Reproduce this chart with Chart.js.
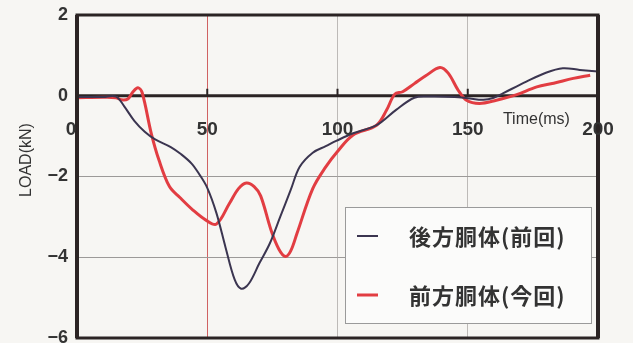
<!DOCTYPE html>
<html>
<head>
<meta charset="utf-8">
<script src="https://cdn.jsdelivr.net/npm/chart.js@4/dist/chart.umd.min.js"></script>
<style>
  html, body { margin: 0; padding: 0; background: #f7f6f3; }
  #wrap { width: 633px; height: 343px; position: relative; }
</style>
</head>
<body>
<div id="wrap"><canvas id="c" width="633" height="343"></canvas></div>
<script>
// Time axis (ms) and load (kN) samples for each body section
const rearTime = [0, 10, 15, 18, 22, 26, 30, 36, 40, 44, 47, 50, 53.5, 57, 60.5, 63, 66, 70, 74, 78, 82, 85.5, 90.5, 95.5, 99.5, 106, 115, 122.5, 129.5, 135, 145, 150, 156, 160, 163.5, 172.5, 180, 186.5, 193, 200];
const rearLoad = [-0.03, -0.03, -0.02, -0.25, -0.62, -0.89, -1.08, -1.27, -1.45, -1.68, -1.95, -2.28, -2.9, -3.75, -4.55, -4.78, -4.65, -4.15, -3.66, -3.0, -2.34, -1.76, -1.41, -1.25, -1.12, -0.93, -0.73, -0.35, -0.05, -0.02, -0.03, -0.06, -0.1, -0.05, 0.06, 0.35, 0.57, 0.68, 0.64, 0.6];

const frontTime = [0, 10, 15, 17, 19.5, 21.5, 23.4, 25, 28.5, 31.5, 35.5, 39.5, 44.5, 49.5, 53.5, 58.5, 62, 65, 68, 70.5, 74.5, 77.5, 80, 82, 84.5, 90.5, 95.5, 100, 106, 115, 118.8, 122, 125, 129.5, 134, 139.3, 142.5, 146.3, 149.5, 154.5, 161, 168.5, 176.5, 183, 190.5, 197];
const frontLoad = [-0.05, -0.04, -0.05, -0.1, -0.08, 0.1, 0.2, 0.08, -0.93, -1.6, -2.25, -2.52, -2.83, -3.08, -3.18, -2.67, -2.3, -2.16, -2.25, -2.48, -3.33, -3.8, -3.98, -3.85, -3.4, -2.3, -1.76, -1.38, -0.97, -0.73, -0.36, 0.04, 0.1, 0.3, 0.5, 0.7, 0.56, 0.14, -0.11, -0.19, -0.11, 0.02, 0.22, 0.31, 0.43, 0.51];

const seriesLabels = ['後方胴体(前回)', '前方胴体(今回)'];
const xTicks = [0, 50, 100, 150, 200];
const yTicks = [2, 0, -2, -4, -6];
const xTitle = 'Time(ms)';
const yTitle = 'LOAD(kN)';

const pts = (xs, ys) => xs.map((x, i) => ({ x: x, y: ys[i] }));

const INK = '#2b2424';
const TEXT = '#333333';
const NUM_FONT = '"Liberation Sans", Arial, sans-serif';
const CJK_FONT = '"Noto Sans CJK JP", "Noto Sans", sans-serif';

// Frame, zero line, tick labels, titles and the boxed legend
const decor = {
  id: 'decor',
  beforeDatasetsDraw(chart) {
    const { ctx, chartArea: a, scales: { x, y } } = chart;
    const y0 = y.getPixelForValue(0);
    ctx.save();
    // zero line
    ctx.strokeStyle = INK;
    ctx.lineWidth = 3;
    ctx.beginPath();
    ctx.moveTo(a.left, y0);
    ctx.lineTo(a.right, y0);
    ctx.stroke();
    // small ticks on the zero line
    ctx.lineWidth = 2;
    xTicks.slice(1, -1).forEach(v => {
      const px = x.getPixelForValue(v);
      ctx.beginPath();
      ctx.moveTo(px, y0 - 7);
      ctx.lineTo(px, y0);
      ctx.stroke();
    });
    ctx.restore();
  },
  afterDraw(chart) {
    const { ctx, chartArea: a, scales: { x, y } } = chart;
    const y0 = y.getPixelForValue(0);
    ctx.save();
    // plot frame
    ctx.strokeStyle = INK;
    ctx.lineWidth = 3;
    ctx.strokeRect(a.left, a.top, a.right - a.left, a.bottom - a.top);
    ctx.lineWidth = 4;
    ctx.beginPath();
    ctx.moveTo(a.left, a.top); ctx.lineTo(a.left, a.bottom);
    ctx.moveTo(a.right, a.top); ctx.lineTo(a.right, a.bottom);
    ctx.stroke();

    // y tick labels
    ctx.fillStyle = TEXT;
    ctx.font = 'bold 18px ' + NUM_FONT;
    ctx.textAlign = 'right';
    ctx.textBaseline = 'middle';
    yTicks.forEach(v => {
      const t = v < 0 ? '\u2212' + Math.abs(v) : String(v);
      ctx.fillText(t, a.left - 9, y.getPixelForValue(v));
    });

    // x tick labels, set below the zero line
    ctx.font = 'bold 19px ' + NUM_FONT;
    ctx.textAlign = 'center';
    xTicks.forEach(v => {
      let px = x.getPixelForValue(v);
      if (v === 0) px -= 6;
      ctx.fillText(String(v), px, y0 + 34);
    });

    // axis titles
    ctx.font = '16px ' + NUM_FONT;
    ctx.textAlign = 'left';
    ctx.fillText(xTitle, x.getPixelForValue(163.5), y0 + 24);
    ctx.save();
    ctx.translate(27, 160);
    ctx.rotate(-Math.PI / 2);
    ctx.textAlign = 'center';
    ctx.fillText(yTitle, 0, 0);
    ctx.restore();

    // legend box
    const bx = 345, by = 207, bw = 246, bh = 116;
    ctx.fillStyle = '#fbfbfa';
    ctx.fillRect(bx, by, bw, bh);
    ctx.strokeStyle = '#9a9a9a';
    ctx.lineWidth = 1;
    ctx.strokeRect(bx + 0.5, by + 0.5, bw, bh);
    ctx.font = 'bold 22px ' + CJK_FONT;
    ctx.letterSpacing = '1px';
    ctx.textAlign = 'left';
    ctx.textBaseline = 'middle';
    const rows = [236, 295];
    chart.data.datasets.forEach((ds, i) => {
      const ry = rows[i];
      ctx.strokeStyle = ds.borderColor;
      ctx.lineWidth = ds.borderWidth;
      ctx.beginPath();
      ctx.moveTo(357, ry);
      ctx.lineTo(378, ry);
      ctx.stroke();
      ctx.fillStyle = TEXT;
      ctx.fillText(ds.label, 409, ry + 1);
    });
    ctx.letterSpacing = '0px';
    ctx.restore();
  }
};

new Chart(document.getElementById('c'), {
  type: 'line',
  data: {
    datasets: [
      {
        label: seriesLabels[0],
        data: pts(rearTime, rearLoad),
        borderColor: '#3b3550',
        borderWidth: 2,
        pointRadius: 0,
        tension: 0.35,
        fill: false
      },
      {
        label: seriesLabels[1],
        data: pts(frontTime, frontLoad),
        borderColor: '#e23d42',
        borderWidth: 3,
        pointRadius: 0,
        tension: 0.35,
        fill: false
      }
    ]
  },
  options: {
    responsive: false,
    animation: false,
    devicePixelRatio: 1,
    layout: { padding: { left: 77, top: 15, right: 35, bottom: 5 } },
    plugins: {
      legend: { display: false },
      tooltip: { enabled: false }
    },
    scales: {
      x: {
        type: 'linear',
        min: 0,
        max: 200,
        ticks: { display: false, stepSize: 50 },
        border: { display: false },
        grid: {
          drawTicks: false,
          lineWidth: 1,
          color: ctx => {
            const v = ctx.tick && ctx.tick.value;
            if (v === 50) return '#d06262';
            if (v === 100 || v === 150) return '#bdbab7';
            return 'rgba(0,0,0,0)';
          }
        }
      },
      y: {
        min: -6,
        max: 2,
        ticks: { display: false, stepSize: 2 },
        border: { display: false },
        grid: {
          drawTicks: false,
          lineWidth: 1,
          color: ctx => {
            const v = ctx.tick && ctx.tick.value;
            if (v === -2 || v === -4) return '#9c9a98';
            return 'rgba(0,0,0,0)';
          }
        }
      }
    }
  },
  plugins: [decor]
});
</script>
</body>
</html>
